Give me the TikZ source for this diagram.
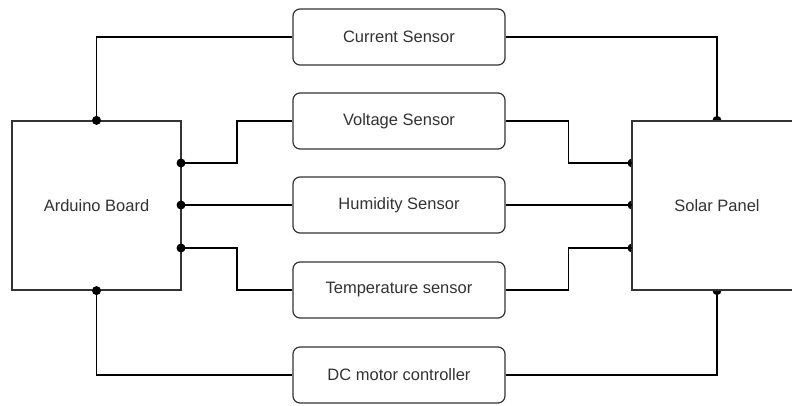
\documentclass[tikz,border=0pt]{standalone}
\usepackage{fontspec}
\setmainfont{Liberation Sans}
\usetikzlibrary{backgrounds}

\begin{document}
\begin{tikzpicture}[x=1pt, y=-1pt, line width=1.2pt,
    block/.style={draw=black!80, fill=white, minimum width=170pt, minimum height=169pt,
        inner sep=0pt, text=black!80, font=\fontsize{16.5}{20}\selectfont},
    sensor/.style={draw=black!80, fill=white, rounded corners=7pt, minimum width=212pt,
        minimum height=56pt, inner sep=0pt, text=black!80, font=\fontsize{16.5}{20}\selectfont},
    junction/.style={fill=black}]

    \useasboundingbox (0,0) rectangle (792,405);
    \clip (0,0) rectangle (792,405);

    % --- Main blocks ---
    \node[block, minimum width=169pt] (arduino) at (96.5,205.5) {Arduino Board};
    \node[block] (solar) at (717,205.5) {Solar Panel};

    % --- Sensors ---
    \node[sensor] (current) at (399,37) {Current Sensor};
    \node[sensor] (voltage) at (399,121) {Voltage Sensor};
    \node[sensor] (humidity) at (399,205) {Humidity Sensor};
    \node[sensor] (temp) at (399,290) {Temperature sensor};
    \node[sensor] (motor) at (399,375) {DC motor controller};

    % --- Pins on the boards ---
    \coordinate (av) at (181,163);
    \coordinate (ah) at (181,205);
    \coordinate (at) at (181,248);
    \coordinate (sv) at (632,163);
    \coordinate (sh) at (632,205);
    \coordinate (st) at (632,248);

    % --- Current sensor ---
    \draw (arduino.north) |- (current.west);
    \draw (current.east) -| (solar.north);

    % --- Voltage sensor ---
    \draw (av) -- ++(56,0) |- (voltage.west);
    \draw (voltage.east) -- ++(63,0) |- (sv);

    % --- Humidity sensor ---
    \draw (ah) -- (humidity.west);
    \draw (humidity.east) -- (sh);

    % --- Temperature sensor ---
    \draw (at) -- ++(56,0) |- (temp.west);
    \draw (temp.east) -- ++(63,0) |- (st);

    % --- DC motor controller ---
    \draw (arduino.south) |- (motor.west);
    \draw (motor.east) -| (solar.south);

    % --- Junction dots ---
    \foreach \p in {arduino.north, arduino.south, av, ah, at}
        \fill[junction] (\p) circle (4.5pt);
    \begin{scope}[on background layer]
        \foreach \p in {solar.north, solar.south, sv, sh, st}
            \fill[junction] (\p) circle (4.5pt);
    \end{scope}

\end{tikzpicture}
\end{document}
